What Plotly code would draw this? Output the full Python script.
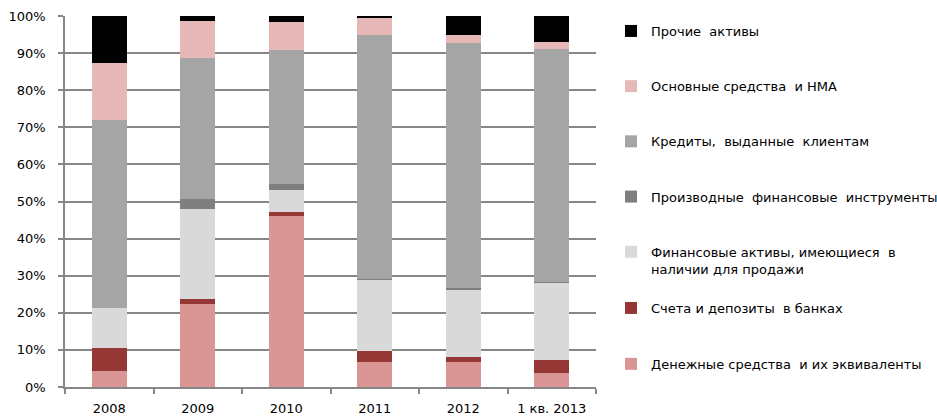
import plotly.graph_objects as go

categories = ["2008", "2009", "2010", "2011", "2012", "1 кв. 2013"]

cash = [4.2, 22.3, 46.0, 6.7, 6.7, 3.9]
deposits = [6.4, 1.3, 1.3, 3.1, 1.5, 3.4]
afs = [10.6, 24.3, 5.8, 19.1, 18.2, 20.9]
derivatives = [0.0, 2.7, 1.6, 0.2, 0.2, 0.2]
loans = [50.9, 38.1, 36.1, 65.8, 66.1, 62.7]
fixed_assets = [15.2, 10.0, 7.6, 4.5, 2.3, 2.0]
other = [12.7, 1.3, 1.6, 0.6, 5.0, 6.9]

series = [
    ("Денежные средства  и их эквиваленты", cash, "#D99694", "legend2"),
    ("Счета и депозиты  в банках", deposits, "#953735", "legend2"),
    ("Финансовые активы, имеющиеся  в<br>наличии для продажи", afs, "#D9D9D9", "legend"),
    ("Производные  финансовые  инструменты", derivatives, "#7F7F7F", "legend"),
    ("Кредиты,  выданные  клиентам", loans, "#A5A5A5", "legend"),
    ("Основные средства  и НМА", fixed_assets, "#E6B9B8", "legend"),
    ("Прочие  активы", other, "#000000", "legend"),
]

FONT = "DejaVu Sans"
n = len(series)

fig = go.Figure()
for i, (name, vals, color, lg) in enumerate(series):
    fig.add_trace(go.Bar(
        x=categories, y=vals, name=name, legend=lg, legendgroup=f"g{i}",
        legendrank=n - i,
        marker=dict(color=color, line=dict(width=0)),
        hoverinfo="name+y",
    ))

legend_common = dict(
    traceorder="grouped",
    tracegroupgap=36,
    font=dict(family=FONT, size=13, color="#000000"),
    bgcolor="rgba(0,0,0,0)",
    xref="container", yref="container",
    xanchor="left", yanchor="top",
    itemwidth=30, valign="top",
    maxheight=410,
)

fig.update_layout(
    barmode="stack",
    bargap=0.6,
    width=937, height=418,
    margin=dict(l=65, r=341, t=16, b=31),
    paper_bgcolor="white", plot_bgcolor="white",
    font=dict(family=FONT, size=13, color="#000000"),
    legend=dict(legend_common, x=611/937, y=1 - 16/418, tracegroupgap=35.3),
    legend2=dict(legend_common, x=611/937, y=1 - 293/418),
    xaxis=dict(
        showline=True, linecolor="#868686", linewidth=1.5,
        ticks="outside", tickson="boundaries", ticklen=5, tickcolor="#868686",
        tickwidth=1.5, showgrid=False, automargin=False,
        tickfont=dict(family=FONT, size=13, color="#000000"),
        ticklabelstandoff=9,
    ),
    yaxis=dict(
        range=[0, 100], dtick=10, ticksuffix="%",
        showline=True, linecolor="#868686", linewidth=1.5,
        ticks="outside", ticklen=5, tickcolor="#868686", tickwidth=1.5,
        showgrid=True, gridcolor="#868686", gridwidth=1.5,
        zeroline=False, automargin=False,
        tickfont=dict(family=FONT, size=13, color="#000000"),
        ticklabelstandoff=10,
    ),
)

fig.write_html("out.html")
